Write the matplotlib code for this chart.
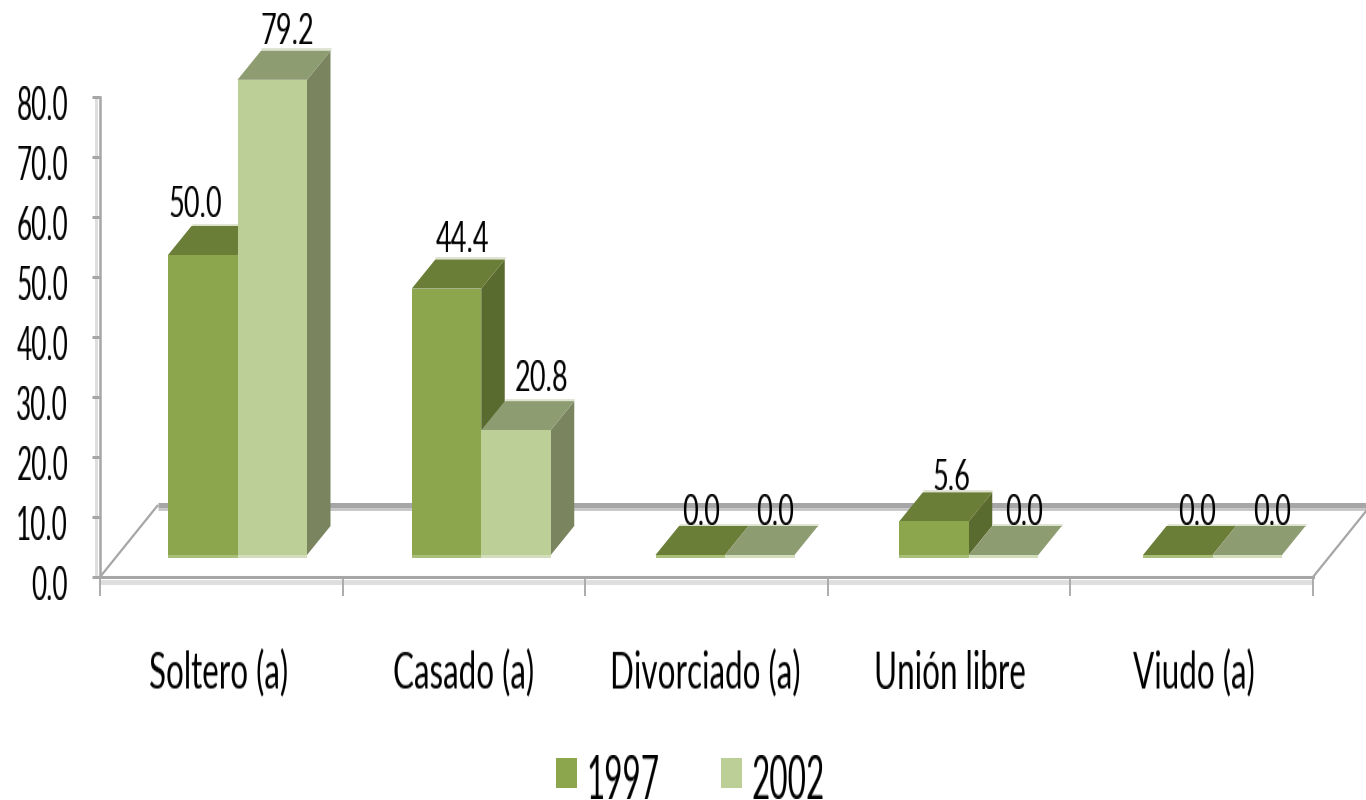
import numpy as np
import matplotlib
matplotlib.use("Agg")
import matplotlib.pyplot as plt
from matplotlib.patches import Patch

categories = ["Soltero (a)", "Casado (a)", "Divorciado (a)", "Unión libre", "Viudo (a)"]
series_names = ["1997", "2002"]
values_1997 = [50.0, 44.4, 0.0, 5.6, 0.0]
values_2002 = [79.2, 20.8, 0.0, 0.0, 0.0]
y_ticks = [0, 10, 20, 30, 40, 50, 60, 70, 80]

# styles
FRONT = ["#8CA64E", "#BBCF97"]
TOP = ["#6A7E38", "#8E9C72"]
SIDE = ["#5A6B30", "#7A8560"]
STRIP = ["#A9BE78", "#D2DDBB"]
GRAY = "#A6A6A6"
LIGHT = "#DEDEDE"

W, H = 1366, 800
AX_L, AX_R, AX_T, AX_B = 100, 1313, 97, 577
PX_X = 5 / (AX_R - AX_L)      # data units per pixel
PX_Y = 80 / (AX_B - AX_T)


def tall(ky, shift=0, lift=0):
    """Stretch a drawn text vertically (the reference text is tall and narrow)."""
    def _f(img, dpi):
        h = img.shape[0]
        nh = max(1, int(round(h * ky)))
        src = np.linspace(0, h - 1, nh)
        i0 = np.floor(src).astype(int)
        i1 = np.minimum(i0 + 1, h - 1)
        t = (src - i0)[:, None, None]
        out = img[i0] * (1 - t) + img[i1] * t
        return out, shift, lift - (nh - h) // 2
    return _f


fig = plt.figure(figsize=(W / 100, H / 100), dpi=100, facecolor="white")
plt.rcParams["font.family"] = ["Lato", "DejaVu Sans"]
ax = fig.add_axes([AX_L / W, 1 - AX_B / H, (AX_R - AX_L) / W, (AX_B - AX_T) / H])
ax.set_xlim(0, 5)
ax.set_ylim(0, 80)
ax.patch.set_alpha(0)
for s in ["top", "right"]:
    ax.spines[s].set_visible(False)
ax.spines["left"].set_color(GRAY)
ax.spines["left"].set_linewidth(1.8)
ax.spines["bottom"].set_color(GRAY)
ax.spines["bottom"].set_linewidth(2.2)

# axes ticks
ax.set_yticks(y_ticks)
ax.set_yticklabels([f"{v:.1f}" for v in y_ticks])
ax.tick_params(axis="y", length=6, width=2.2, color=GRAY, pad=17, labelsize=18.9)
ax.set_xticks(range(6))
ax.set_xticklabels([])
ax.tick_params(axis="x", which="major", length=13.5, width=1.3, color=GRAY)
ax.set_xticks(np.arange(5) + 0.5, minor=True)
ax.set_xticklabels(categories, minor=True)
ax.tick_params(axis="x", which="minor", length=0, pad=58, labelsize=22.6)
for t in ax.get_yticklabels():
    t.set_agg_filter(tall(1.69, lift=-6))
category_shift = [-3, 0, -1, 1, 2]
for t, d in zip(ax.get_xticklabels(minor=True), category_shift):
    t.set_agg_filter(tall(1.68, shift=d))

# floor and wall
kw = dict(clip_on=False, solid_capstyle="butt")
ax.plot([-4 * PX_X] * 2, [0, 80], color=LIGHT, lw=2.2, zorder=1, **kw)
ax.plot([0, 5], [-4.5 * PX_Y] * 2, color=LIGHT, lw=3.5, zorder=1, **kw)
wall_y = (AX_B - 505) * PX_Y
depth_x = 58 * PX_X
ax.plot([depth_x, (W - AX_L) * PX_X], [wall_y] * 2, color=GRAY, lw=3.6, zorder=1.1, **kw)
ax.plot([depth_x, (W - AX_L) * PX_X], [wall_y - 4 * PX_Y] * 2, color="#C4C4C4", lw=2, zorder=1, **kw)
ax.plot([0, depth_x], [0, wall_y], color=GRAY, lw=1.6, zorder=1.1, **kw)
ax.plot([5, 5 + depth_x], [0, wall_y], color=GRAY, lw=1.6, zorder=1.1, **kw)

# 3-D bars
BASE = (AX_B - 555) * PX_Y
BAR_W = 69.5 * PX_X
DX = 23.5 * PX_X
DY = 29 * PX_Y
FIRST = (168 - AX_L) * PX_X
STEP = 243.75 * PX_X
group_left = FIRST + STEP * np.arange(len(categories))

# label placement tweaks in pixels: (right, down)
label_nudge = {(0, 0): (-25, 1), (0, 1): (-2, 3), (1, 0): (-1, 2), (1, 1): (8, 0),
               (2, 0): (-6, 9), (2, 1): (-2, 9), (3, 0): (0, 8), (3, 1): (3, 9),
               (4, 0): (2, 9), (4, 1): (8, 9)}

for s, vals in enumerate([values_1997, values_2002]):
    lefts = group_left + s * BAR_W
    z = 2 + s
    ax.bar(lefts, vals, width=BAR_W, bottom=BASE, align="edge", color=FRONT[s],
           linewidth=0, clip_on=False, zorder=z + 0.2)
    ax.bar(lefts, [3 * PX_Y] * 5, width=BAR_W, bottom=BASE - 3 * PX_Y, align="edge", color=STRIP[s],
           linewidth=0, clip_on=False, zorder=z + 0.3)
    for i, (x, v) in enumerate(zip(lefts, vals)):
        t = BASE + v
        ax.fill([x + BAR_W, x + BAR_W + DX, x + BAR_W + DX, x + BAR_W],
                [BASE, BASE + DY, t + DY, t], color=SIDE[s], lw=0, clip_on=False, zorder=z)
        ax.fill([x, x + DX, x + BAR_W + DX, x + BAR_W],
                [t, t + DY, t + DY, t], color=TOP[s], lw=0, clip_on=False, zorder=z + 0.1)
        ax.plot([x + DX, x + BAR_W + DX], [t + DY + PX_Y * 1.5] * 2, color="#DDE2CF", lw=2,
                zorder=z - 0.1, **kw)
        nx, ny = label_nudge[(i, s)]
        lab = ax.text(x + (52 + nx) * PX_X, t + DY + (10 - ny) * PX_Y, f"{v:.1f}",
                      ha="center", va="bottom", fontsize=19.5, color="black", zorder=10, clip_on=False)
        lab.set_agg_filter(tall(1.54))

# legend
handles = [Patch(facecolor=FRONT[i], edgecolor="none", label=series_names[i]) for i in range(2)]
leg = fig.legend(handles=handles, loc="lower left", bbox_to_anchor=(556 / W, 1 - 790 / H), ncol=2, frameon=False,
                 fontsize=22.7, handlelength=0.667, handleheight=1.08, handletextpad=0.3,
                 columnspacing=1.95, borderpad=0, borderaxespad=0)
for t in leg.get_texts():
    t.set_agg_filter(tall(1.85, lift=-5))

fig.savefig("out.png", dpi=100, facecolor="white")
